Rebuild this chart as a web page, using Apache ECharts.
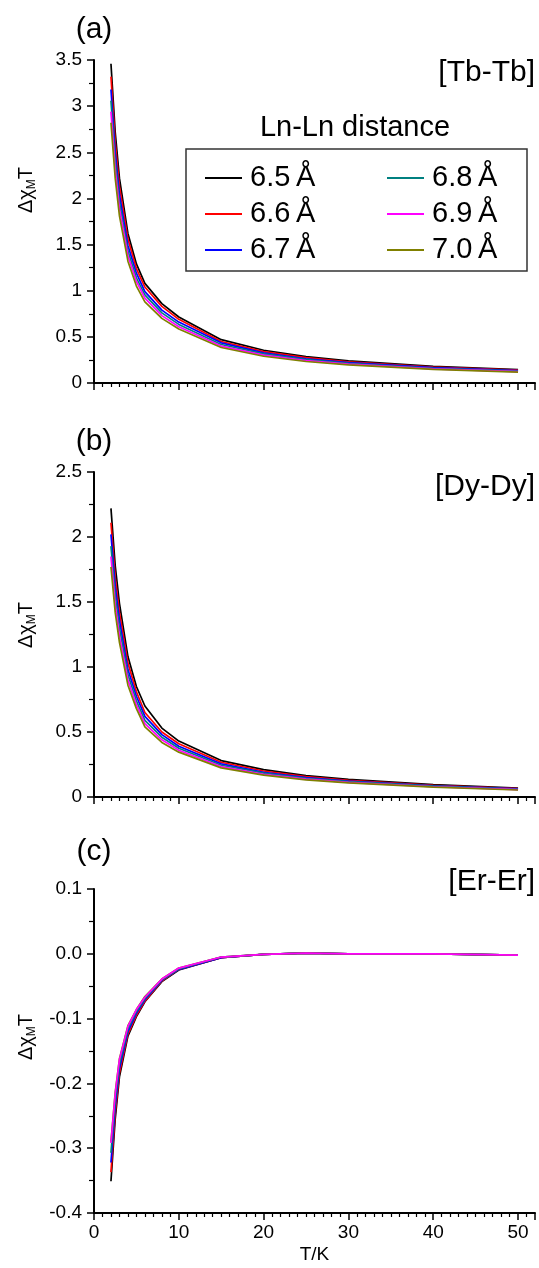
<!DOCTYPE html>
<html>
<head>
<meta charset="utf-8">
<script src="https://cdn.jsdelivr.net/npm/echarts@6/dist/echarts.min.js"></script>
<style>
  html, body { margin: 0; padding: 0; background: #fff; }
  #main { width: 539px; height: 1268px; }
</style>
</head>
<body>
<div id="main"></div>
<script>
var myChart = echarts.init(document.getElementById('main'));

// temperatures (K)
var temps = [2, 2.5, 3, 4, 5, 6, 8, 10, 15, 20, 25, 30, 40, 50];
var names = ['6.5\u2009Å', '6.6\u2009Å', '6.7\u2009Å', '6.8\u2009Å', '6.9\u2009Å', '7.0\u2009Å'];
var colors = ['#000000', '#ff0000', '#0000ff', '#008080', '#ff00ff', '#808000'];

// (a) [Tb-Tb]
var tb65 = [3.46, 2.72, 2.22, 1.62, 1.29, 1.08, 0.86, 0.715, 0.47, 0.355, 0.285, 0.24, 0.18, 0.145];
var tb66 = [3.32, 2.61, 2.13, 1.56, 1.24, 1.04, 0.83, 0.69, 0.45, 0.34, 0.275, 0.23, 0.173, 0.14];
var tb67 = [3.18, 2.50, 2.04, 1.49, 1.19, 0.99, 0.79, 0.66, 0.435, 0.327, 0.263, 0.22, 0.166, 0.134];
var tb68 = [3.06, 2.41, 1.96, 1.43, 1.14, 0.955, 0.76, 0.635, 0.417, 0.315, 0.253, 0.213, 0.16, 0.129];
var tb69 = [2.94, 2.31, 1.89, 1.38, 1.10, 0.92, 0.73, 0.61, 0.40, 0.302, 0.243, 0.204, 0.153, 0.124];
var tb70 = [2.82, 2.22, 1.81, 1.32, 1.05, 0.88, 0.70, 0.585, 0.385, 0.29, 0.233, 0.196, 0.147, 0.118];

// (b) [Dy-Dy]
var dy65 = [2.22, 1.78, 1.49, 1.08, 0.85, 0.70, 0.53, 0.43, 0.28, 0.21, 0.165, 0.135, 0.095, 0.068];
var dy66 = [2.11, 1.69, 1.42, 1.03, 0.81, 0.65, 0.50, 0.41, 0.267, 0.20, 0.157, 0.128, 0.09, 0.065];
var dy67 = [2.02, 1.62, 1.36, 0.98, 0.775, 0.62, 0.48, 0.39, 0.255, 0.19, 0.15, 0.123, 0.086, 0.062];
var dy68 = [1.93, 1.55, 1.30, 0.94, 0.74, 0.59, 0.46, 0.375, 0.244, 0.183, 0.144, 0.118, 0.083, 0.059];
var dy69 = [1.85, 1.48, 1.24, 0.90, 0.71, 0.565, 0.44, 0.36, 0.234, 0.175, 0.138, 0.113, 0.079, 0.057];
var dy70 = [1.77, 1.42, 1.19, 0.86, 0.68, 0.54, 0.42, 0.345, 0.224, 0.168, 0.132, 0.108, 0.076, 0.054];

// (c) [Er-Er]
var er65 = [-0.351, -0.255, -0.19, -0.127, -0.097, -0.074, -0.043, -0.025, -0.006, -0.001, 0.001, 0.0, 0.0, -0.002];
var er66 = [-0.337, -0.246, -0.184, -0.124, -0.095, -0.073, -0.042, -0.024, -0.006, -0.001, 0.001, 0.0, 0.0, -0.002];
var er67 = [-0.322, -0.236, -0.177, -0.120, -0.092, -0.071, -0.041, -0.024, -0.006, -0.001, 0.001, 0.0, 0.0, -0.002];
var er68 = [-0.307, -0.226, -0.170, -0.116, -0.089, -0.069, -0.040, -0.023, -0.005, -0.001, 0.001, 0.0, 0.0, -0.002];
var er69 = [-0.292, -0.216, -0.163, -0.112, -0.086, -0.067, -0.039, -0.022, -0.005, -0.001, 0.001, 0.0, 0.0, -0.002];
var er70 = [-0.290, -0.214, -0.162, -0.111, -0.086, -0.066, -0.039, -0.022, -0.005, -0.001, 0.001, 0.0, 0.0, -0.002];

var panels = [
    [tb65, tb66, tb67, tb68, tb69, tb70],
    [dy65, dy66, dy67, dy68, dy69, dy70],
    [er65, er66, er67, er68, er69, er70]
];
// draw order per panel (in (c) magenta ends up on top)
var drawOrder = [
    [0, 1, 2, 3, 4, 5],
    [0, 1, 2, 3, 4, 5],
    [0, 1, 2, 3, 5, 4]
];
var yRanges = [
    { min: 0, max: 3.5, interval: 0.5 },
    { min: 0, max: 2.5, interval: 0.5 },
    { min: -0.4, max: 0.1, interval: 0.1 }
];

var FONT = 'Liberation Sans, Arial, sans-serif';
var grids = [
    { left: 94, top: 60, width: 441, height: 323 },
    { left: 94, top: 472, width: 441, height: 325 },
    { left: 94, top: 889, width: 441, height: 324 }
];

var xAxes = [], yAxes = [], series = [];
for (var p = 0; p < 3; p++) {
    xAxes.push({
        type: 'value',
        gridIndex: p,
        min: 0,
        max: 52,
        interval: 10,
        name: p === 2 ? 'T/K' : '',
        nameLocation: 'middle',
        nameGap: 32,
        nameTextStyle: { color: '#000', fontSize: 19, fontFamily: FONT },
        axisLine: { show: true, onZero: false, lineStyle: { color: '#000', width: 2 } },
        axisTick: { show: true, length: 7, lineStyle: { color: '#000', width: 1.5 } },
        minorTick: { show: true, splitNumber: 10, length: 4, lineStyle: { color: '#000', width: 1.2 } },
        axisLabel: {
            show: p === 2,
            margin: 10,
            color: '#000',
            fontSize: 19,
            fontFamily: FONT,
            showMaxLabel: false,
            formatter: function (v) { return v > 50 ? '' : String(v); }
        },
        splitLine: { show: false }
    });
    yAxes.push({
        type: 'value',
        gridIndex: p,
        min: yRanges[p].min,
        max: yRanges[p].max,
        interval: yRanges[p].interval,
        axisLine: { show: true, onZero: false, lineStyle: { color: '#000', width: 2 } },
        axisTick: { show: true, length: 7, lineStyle: { color: '#000', width: 1.5 } },
        minorTick: { show: true, splitNumber: 2, length: 5, lineStyle: { color: '#000', width: 1.2 } },
        axisLabel: {
            margin: 12,
            color: '#000',
            fontSize: 19,
            fontFamily: FONT,
            formatter: p === 2 ? function (v) { return v.toFixed(1); } : function (v) { return String(+v.toFixed(2)); }
        },
        splitLine: { show: false }
    });
    drawOrder[p].forEach(function (k, z) {
        series.push({
            type: 'line',
            name: names[k],
            xAxisIndex: p,
            yAxisIndex: p,
            z: 2 + z,
            showSymbol: false,
            symbol: 'none',
            smooth: false,
            itemStyle: { color: colors[k] },
            lineStyle: { color: colors[k], width: 1.7 },
            data: temps.map(function (t, i) { return [t, panels[p][k][i]]; })
        });
    });
}

function legendBlock(list, left) {
    return {
        data: list,
        orient: 'vertical',
        left: left,
        top: 160,
        padding: 0,
        itemGap: 0,
        icon: 'rect',
        itemWidth: 37,
        itemHeight: 2,
        selectedMode: false,
        textStyle: { color: '#000', fontSize: 29, lineHeight: 36, fontFamily: FONT, padding: [0, 0, 0, 3] }
    };
}

function yName(cy) {
    return {
        type: 'text',
        x: 26,
        y: cy,
        rotation: Math.PI / 2,
        style: {
            text: '{n|Δχ}{s|M}{n|T}',
            align: 'center',
            verticalAlign: 'middle',
            fill: '#000',
            rich: {
                n: { fontSize: 20, fontFamily: FONT, lineHeight: 24, fill: '#000' },
                s: { fontSize: 12, fontFamily: FONT, lineHeight: 12, verticalAlign: 'bottom', fill: '#000' }
            }
        }
    };
}

function label(txt, x, y, align) {
    return {
        type: 'text',
        x: x,
        y: y,
        style: { text: txt, fontSize: 30, fontFamily: FONT, fill: '#000', align: align, verticalAlign: 'middle' }
    };
}

var option = {
    backgroundColor: '#fff',
    animation: false,
    grid: grids,
    xAxis: xAxes,
    yAxis: yAxes,
    legend: [
        legendBlock(names.slice(0, 3), 205),
        legendBlock(names.slice(3, 6), 387)
    ],
    graphic: [
        label('(a)', 94, 30, 'center'),
        label('(b)', 94, 442, 'center'),
        label('(c)', 94, 852, 'center'),
        label('[Tb-Tb]', 535, 73, 'right'),
        label('[Dy-Dy]', 535, 487, 'right'),
        label('[Er-Er]', 535, 882, 'right'),
        yName(190),
        yName(625),
        yName(1037),
        {
            type: 'text',
            x: 355,
            y: 128,
            style: { text: 'Ln-Ln distance', fontSize: 29, fontFamily: FONT, fill: '#000', align: 'center', verticalAlign: 'middle' }
        },
        {
            type: 'rect',
            shape: { x: 186, y: 149, width: 341, height: 122 },
            style: { fill: 'none', stroke: '#333', lineWidth: 1.5 }
        }
    ],
    series: series
};
myChart.setOption(option);
</script>
</body>
</html>
